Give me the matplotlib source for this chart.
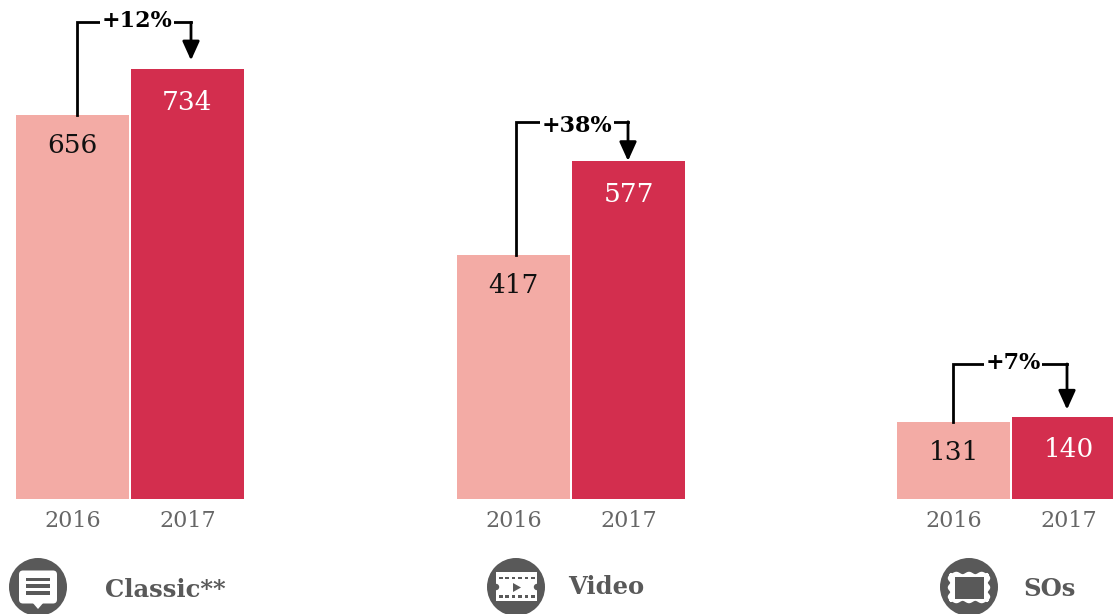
#!/usr/bin/env python3

import numpy as np
import matplotlib
matplotlib.use('Agg')
import matplotlib.pyplot as plt
from matplotlib.patches import Circle, FancyBboxPatch, Polygon, Rectangle

years = ['2016', '2017']
groups = ['Classic**', 'Video', 'SOs']
values_2016 = [656, 417, 131]
values_2017 = [734, 577, 140]
changes = ['+12%', '+38%', '+7%']

LIGHT = '#f3aba5'
DARK = '#d32e4e'
GREY = '#595959'
SERIF = 'DejaVu Serif'

W, H = 1113, 614
BASE = 498.5        # baseline of the bars, px from top
PX_PER_UNIT = 0.585

group_left = [16, 457, 897]
bar_w = 113
bar_gap = 2
riser_x = [77, 516, 953]
arrow_x = [191, 628, 1067]
bracket_y = [814, 644, 230]
arrow_gap = [15, 0, 12]
change_y = [816, 637, 232]
change_x = [137, 577, 1013]
label_x = [105, 568, 1023]
label_py = [590, 587, 589]
icon_x = [38, 516, 969]

fig = plt.figure(figsize=(W / 100, H / 100), dpi=100)
ax = fig.add_axes([0, 1 - BASE / H, 1, BASE / H])
ax.set_xlim(0, W)
ax.set_ylim(0, BASE / PX_PER_UNIT)
for s in ax.spines.values():
    s.set_visible(False)
ax.set_yticks([])

ticks, ticklabels = [], []
for i in range(len(groups)):
    x16 = group_left[i]
    x17 = x16 + bar_w + bar_gap
    ax.bar(x16, values_2016[i], width=bar_w, align='edge', color=LIGHT)
    ax.bar(x17, values_2017[i], width=bar_w, align='edge', color=DARK)
    ticks += [x16 + bar_w / 2, x17 + bar_w / 2]
    ticklabels += years

    ax.annotate(str(values_2016[i]), (x16 + bar_w / 2, values_2016[i]), xytext=(0, -22),
                textcoords='offset points', ha='center', va='center',
                family=SERIF, fontsize=19, color='#111111')
    ax.annotate(str(values_2017[i]), (x17 + bar_w / 2, values_2017[i]), xytext=(0, -24),
                textcoords='offset points', ha='center', va='center',
                family=SERIF, fontsize=19, color='white')

    # bracket from the 2016 bar over to the arrow on the 2017 bar
    ax.plot([riser_x[i], riser_x[i], arrow_x[i]], [values_2016[i], bracket_y[i], bracket_y[i]],
            color='black', lw=2.0, solid_joinstyle='miter', clip_on=False, zorder=3)
    ax.annotate('', xy=(arrow_x[i], values_2017[i] + arrow_gap[i]), xytext=(arrow_x[i], bracket_y[i]),
                arrowprops=dict(arrowstyle='-|>,head_length=11.5,head_width=5.2', mutation_scale=1,
                                color='black', lw=2.0, shrinkA=0, shrinkB=0), annotation_clip=False)
    ax.text(change_x[i], change_y[i], changes[i], ha='center', va='center', family=SERIF,
            fontsize=16, fontweight='bold', color='black', zorder=4, clip_on=False,
            bbox=dict(facecolor='white', edgecolor='none', pad=1.2))

ax.set_xticks(ticks)
ax.set_xticklabels(ticklabels, family=SERIF, fontsize=16, color='#666666')
ax.tick_params(axis='x', length=0, pad=8)

# icons and category names live on a pixel overlay
ov = fig.add_axes([0, 0, 1, 1])
ov.set_xlim(0, W)
ov.set_ylim(H, 0)
ov.axis('off')
ov.patch.set_alpha(0)

for i, name in enumerate(groups):
    ov.text(label_x[i], label_py[i], name, ha='left', va='center', family=SERIF,
            fontsize=17.5, fontweight='bold', color=GREY)
    ov.add_patch(Circle((icon_x[i], 587), 29, color=GREY, lw=0))

# speech bubble
cx = icon_x[0]
ov.add_patch(FancyBboxPatch((cx - 17, 572.5), 34, 29, boxstyle='round,pad=2,rounding_size=4',
                            fc='white', ec='none'))
ov.add_patch(Polygon([(cx - 6, 602), (cx + 6, 602), (cx, 609)], fc='white', ec='none'))
for y in (579.5, 586, 593):
    ov.add_patch(Rectangle((cx - 12, y - 1.6), 24, 3.2, fc=GREY, ec='none'))

# film strip
cx = icon_x[1]
ov.add_patch(Rectangle((cx - 20, 572), 41, 29, fc='white', ec='none'))
for side in (cx - 20, cx + 21):
    ov.add_patch(Circle((side, 587), 3.2, fc=GREY, ec='none'))
for k in range(6):
    for y in (578, 596.5):
        ov.add_patch(Rectangle((cx - 17 + k * 6.4, y - 1.2), 3.6, 2.6, fc=GREY, ec='none'))
ov.add_patch(Polygon([(cx - 3, 583), (cx + 5, 587.5), (cx - 3, 592)], fc=GREY, ec='none'))

# wavy picture frame
cx = icon_x[2]
t = np.linspace(-1, 1, 61)
wave = 1.2 * np.cos(t * 3 * np.pi)
top = np.c_[cx + t * 19, 574 - wave]
rgt = np.c_[cx + 19 + wave, 587.5 + t * 14]
bot = np.c_[cx - t * 19, 601 + wave]
lft = np.c_[cx - 19 - wave, 587.5 - t * 14]
ov.add_patch(Polygon(np.vstack([top, rgt, bot, lft]), fc='white', ec='white', lw=1.5))
ov.add_patch(Rectangle((cx - 14, 577), 29, 22, fc=GREY, ec='none'))

fig.savefig('out.png', dpi=100, facecolor='white')
